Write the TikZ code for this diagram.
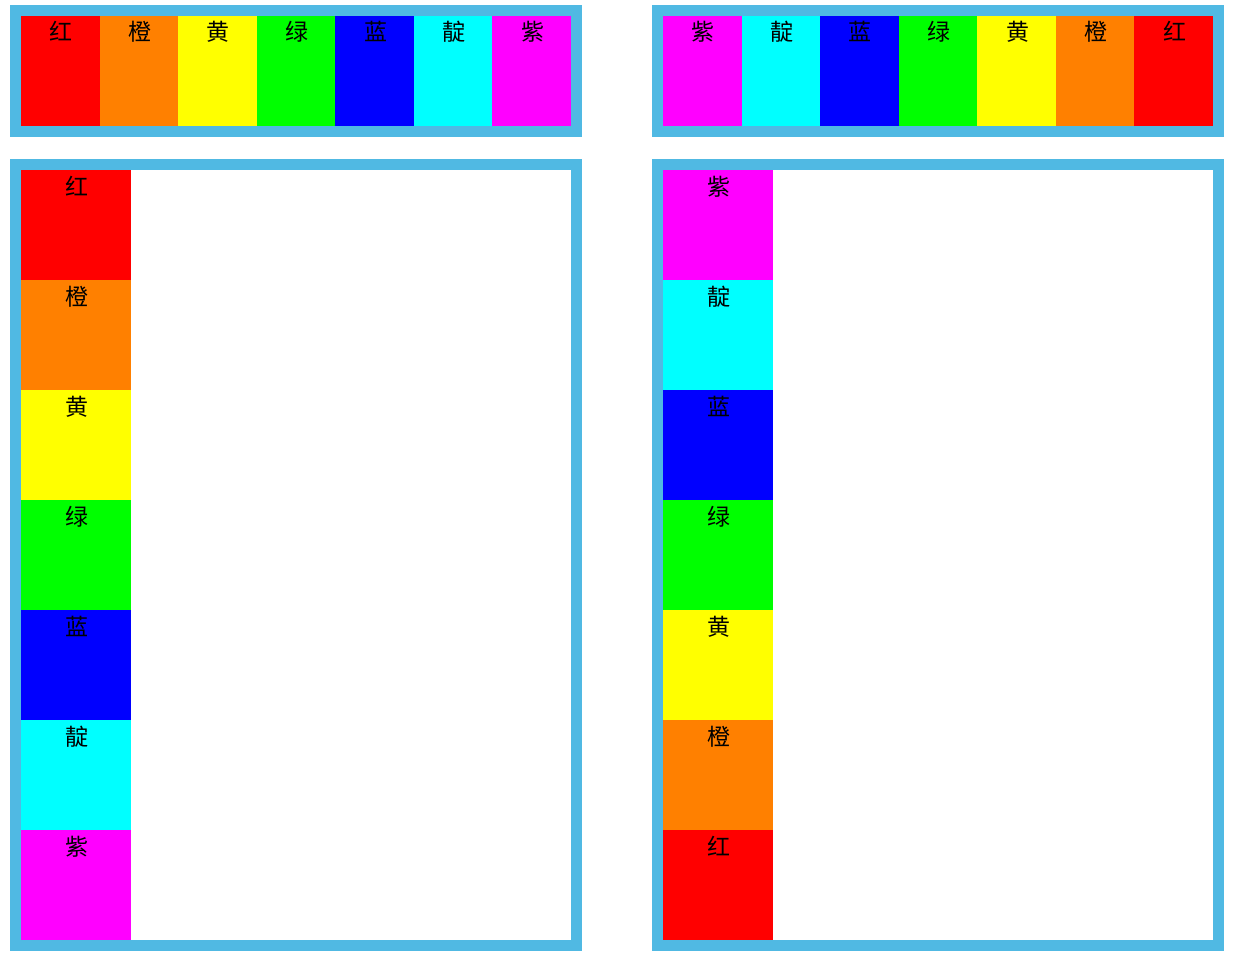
\documentclass[tikz,border=0pt]{standalone}
\usepackage{fontspec}
\newfontfamily\cjk{Noto Sans CJK SC}
\usetikzlibrary{positioning}
\definecolor{frameblue}{RGB}{80,185,227}
\definecolor{hong}{RGB}{255,0,0}
\definecolor{cheng}{RGB}{255,128,0}
\definecolor{huang}{RGB}{255,255,0}
\definecolor{lv}{RGB}{0,255,0}
\definecolor{lan}{RGB}{0,0,255}
\definecolor{dian}{RGB}{0,255,255}
\definecolor{zi}{RGB}{255,0,255}

\begin{document}
\begin{tikzpicture}[
  x=1pt,y=-1pt,
  panel/.style={draw=frameblue,line width=11pt,minimum width=561pt,inner sep=0pt},
  cellbox/.style={minimum height=110pt,inner sep=0pt,outer sep=0pt},
  hcell/.style={cellbox,minimum width=78.57pt},
  vcell/.style={cellbox,minimum width=110pt},
  lbl/.style={anchor=base,yshift=-25pt,xshift=1pt,inner sep=0pt,
    font=\cjk\fontsize{23}{23}\selectfont},
]
  \useasboundingbox (0,0) rectangle (1238,960);
  % frames
  \node[panel,minimum height=121pt] (tlpanel) at (296,71) {};
  \node[panel,minimum height=121pt] (trpanel) at (938,71) {};
  \node[panel,minimum height=781pt] (blpanel) at (296,555) {};
  \node[panel,minimum height=781pt] (brpanel) at (938,555) {};
  % rows
  \foreach \c/\t [count=\i] in {hong/红,cheng/橙,huang/黄,lv/绿,lan/蓝,dian/靛,zi/紫}
    \node[hcell,fill=\c,label={[lbl]north:\t}] (tl\i) at ({21+78.571*(\i-0.5)},71) {};
  \foreach \c/\t [count=\i] in {zi/紫,dian/靛,lan/蓝,lv/绿,huang/黄,cheng/橙,hong/红}
    \node[hcell,fill=\c,label={[lbl]north:\t}] (tr\i) at ({663+78.571*(\i-0.5)},71) {};
  % columns
  \foreach \c/\t [count=\i] in {hong/红,cheng/橙,huang/黄,lv/绿,lan/蓝,dian/靛,zi/紫}
    \node[vcell,fill=\c,label={[lbl]north:\t}] (bl\i) at (76,{170+110*(\i-0.5)}) {};
  \foreach \c/\t [count=\i] in {zi/紫,dian/靛,lan/蓝,lv/绿,huang/黄,cheng/橙,hong/红}
    \node[vcell,fill=\c,label={[lbl]north:\t}] (br\i) at (718,{170+110*(\i-0.5)}) {};
\end{tikzpicture}
\end{document}
